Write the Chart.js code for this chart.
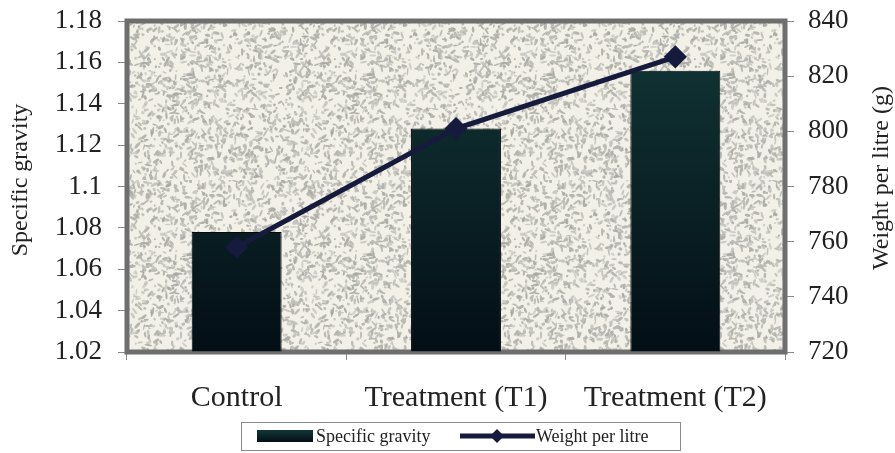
<!DOCTYPE html>
<html>
<head>
<meta charset="utf-8">
<script src="https://cdn.jsdelivr.net/npm/chart.js@4.4.1/dist/chart.umd.min.js"></script>
<style>
  html, body { margin: 0; padding: 0; background: #ffffff; }
  #wrap { width: 895px; height: 453px; position: relative; }
</style>
</head>
<body>
<div id="wrap"><canvas id="c" width="895" height="453"></canvas></div>
<script>
// Categories and measured values
const categories = ['Control', 'Treatment (T1)', 'Treatment (T2)'];
const specificGravity = [1.078, 1.128, 1.156];
const weightPerLitre = [758, 801, 827];

// Axis tick values
const leftTicks = [1.02, 1.04, 1.06, 1.08, 1.1, 1.12, 1.14, 1.16, 1.18];
const rightTicks = [720, 740, 760, 780, 800, 820, 840];

const SERIF = '"Liberation Serif", "Times New Roman", serif';
const BAR_TOP = '#123738';
const BAR_BOTTOM = '#030e15';
const LINE_COLOR = '#161a3c';

// Speckled stone fill for the plot area (deterministic generator)
function makeSpeckle() {
  const cv = document.createElement('canvas');
  cv.width = 180; cv.height = 180;
  const g = cv.getContext('2d');
  g.fillStyle = '#f2f0e7';
  g.fillRect(0, 0, 180, 180);
  let s = 12345;
  const rnd = () => { s = (s * 1103515245 + 12345) & 0x7fffffff; return s / 0x7fffffff; };
  for (let i = 0; i < 1500; i++) {
    const x = rnd() * 180, y = rnd() * 180;
    const shade = 165 + Math.floor(rnd() * 40);
    g.fillStyle = 'rgba(' + shade + ',' + shade + ',' + (shade - 6) + ',0.85)';
    g.beginPath();
    const len = 1 + rnd() * 3, ang = rnd() * Math.PI;
    g.ellipse(x, y, len, 0.8 + rnd() * 0.8, ang, 0, Math.PI * 2);
    g.fill();
  }
  return cv;
}
const speckle = makeSpeckle();

const framePlugin = {
  id: 'frame',
  beforeDatasetsDraw(chart) {
    const { ctx, chartArea: a } = chart;
    ctx.save();
    ctx.fillStyle = ctx.createPattern(speckle, 'repeat');
    ctx.fillRect(a.left, a.top, a.right - a.left, a.bottom - a.top);
    ctx.strokeStyle = '#6e6e6e';
    ctx.lineWidth = 5;
    ctx.strokeRect(a.left, a.top, a.right - a.left, a.bottom - a.top);
    ctx.restore();
  },
  afterDraw(chart) {
    const { ctx } = chart;
    ctx.save();
    // axis titles
    ctx.fillStyle = '#222';
    ctx.font = '24px ' + SERIF;
    ctx.textAlign = 'center';
    ctx.textBaseline = 'middle';
    ctx.save();
    ctx.translate(21, 180);
    ctx.rotate(-Math.PI / 2);
    ctx.fillText('Specific gravity', 0, 0);
    ctx.restore();
    ctx.save();
    ctx.translate(882, 178);
    ctx.rotate(-Math.PI / 2);
    ctx.fillText('Weight per litre (g)', 0, 0);
    ctx.restore();

    // legend
    const bx = 241, by = 422, bw = 439, bh = 28;
    ctx.fillStyle = '#ffffff';
    ctx.fillRect(bx, by, bw, bh);
    ctx.strokeStyle = '#8a8a8a';
    ctx.lineWidth = 1;
    ctx.strokeRect(bx + 0.5, by + 0.5, bw, bh);
    const cy = by + bh / 2;
    const grad = ctx.createLinearGradient(0, cy - 6, 0, cy + 6);
    grad.addColorStop(0, BAR_TOP);
    grad.addColorStop(1, BAR_BOTTOM);
    ctx.fillStyle = grad;
    ctx.fillRect(257, cy - 6, 56, 12);
    ctx.fillStyle = '#222';
    ctx.font = '18px ' + SERIF;
    ctx.textAlign = 'left';
    ctx.fillText('Specific gravity', 316, cy + 1);
    ctx.strokeStyle = LINE_COLOR;
    ctx.lineWidth = 5;
    ctx.beginPath();
    ctx.moveTo(460, cy);
    ctx.lineTo(535, cy);
    ctx.stroke();
    ctx.fillStyle = LINE_COLOR;
    ctx.beginPath();
    ctx.moveTo(497, cy - 7); ctx.lineTo(504, cy); ctx.lineTo(497, cy + 7); ctx.lineTo(490, cy);
    ctx.closePath();
    ctx.fill();
    ctx.fillStyle = '#222';
    ctx.fillText('Weight per litre', 536, cy + 1);
    ctx.restore();
  }
};

function barGradient(context) {
  const chart = context.chart;
  const a = chart.chartArea;
  if (!a) return BAR_BOTTOM;
  const g = chart.ctx.createLinearGradient(0, a.top, 0, a.bottom);
  g.addColorStop(0, BAR_TOP);
  g.addColorStop(1, BAR_BOTTOM);
  return g;
}

// Fixed axis sizes so the plot frame sits at a set place
function fitVertical(width) {
  return function (scale) {
    scale.width = width;
    scale.paddingTop = 0;
    scale.paddingBottom = 0;
  };
}

new Chart(document.getElementById('c'), {
  data: {
    labels: categories,
    datasets: [
      {
        type: 'line',
        label: 'Weight per litre',
        data: weightPerLitre,
        yAxisID: 'y1',
        borderColor: LINE_COLOR,
        backgroundColor: LINE_COLOR,
        borderWidth: 5,
        pointStyle: 'rectRot',
        pointRadius: 8,
        pointBackgroundColor: LINE_COLOR,
        pointBorderColor: LINE_COLOR,
        tension: 0,
        order: 0
      },
      {
        type: 'bar',
        label: 'Specific gravity',
        data: specificGravity,
        yAxisID: 'y',
        backgroundColor: barGradient,
        borderColor: '#020a0e',
        borderWidth: 1,
        barPercentage: 0.41,
        categoryPercentage: 1,
        base: 1.02,
        order: 1
      }
    ]
  },
  options: {
    responsive: false,
    animation: false,
    devicePixelRatio: 1,
    layout: { padding: { top: 21, left: 0, right: 0, bottom: 0 } },
    plugins: { legend: { display: false }, tooltip: { enabled: false } },
    scales: {
      x: {
        type: 'category',
        offset: true,
        border: { display: false },
        grid: { display: true, drawOnChartArea: false, drawTicks: true, tickLength: 8, color: '#8a8a8a', offset: true },
        ticks: { color: '#222', font: { family: SERIF, size: 30 }, padding: 20, maxRotation: 0 },
        afterFit(scale) { scale.height = 101; scale.paddingLeft = 0; scale.paddingRight = 0; }
      },
      y: {
        type: 'linear',
        position: 'left',
        min: 1.02,
        max: 1.18,
        border: { display: false },
        grid: { display: true, drawOnChartArea: false, drawTicks: true, tickLength: 9, color: '#8a8a8a' },
        afterBuildTicks(scale) { scale.ticks = leftTicks.map(v => ({ value: v })); },
        ticks: {
          color: '#222',
          font: { family: SERIF, size: 27 },
          padding: 16,
          callback: v => String(Number(v.toFixed(2)))
        },
        afterFit: fitVertical(127)
      },
      y1: {
        type: 'linear',
        position: 'right',
        min: 720,
        max: 840,
        border: { display: false },
        grid: { display: true, drawOnChartArea: false, drawTicks: true, tickLength: 9, color: '#8a8a8a' },
        afterBuildTicks(scale) { scale.ticks = rightTicks.map(v => ({ value: v })); },
        ticks: { color: '#222', font: { family: SERIF, size: 27 }, padding: 14 },
        afterFit: fitVertical(110)
      }
    }
  },
  plugins: [framePlugin]
});
</script>
</body>
</html>
